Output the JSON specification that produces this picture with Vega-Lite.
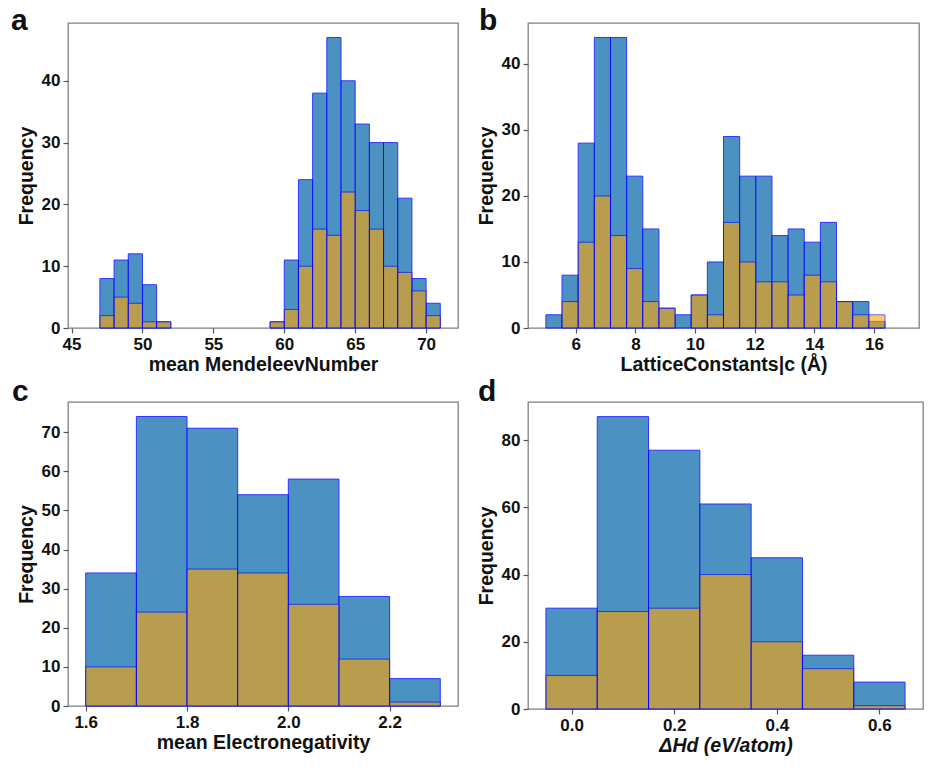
{
  "$schema": "https://vega.github.io/schema/vega-lite/v6.json",
  "padding": {"left": 10, "top": 5, "right": 5, "bottom": 5},
  "background": "white",
  "config": {
    "font": "Liberation Sans",
    "view": {"stroke": "#7f7f7f", "strokeWidth": 1.3},
    "axis": {"domain": false, "grid": false, "tickColor": "#555", "tickSize": 5, "tickWidth": 1.2, "labelFont": "Liberation Sans", "labelFontSize": 17, "labelFontWeight": "bold", "labelColor": "#111", "labelPadding": 3, "labelOverlap": false, "titleFont": "Liberation Sans", "titleFontSize": 19.5, "titleFontWeight": "bold", "titleColor": "#111"},
    "axisX": {"titlePadding": 3},
    "axisY": {"titlePadding": 5},
    "title": {"anchor": "start", "frame": "group", "fontSize": 30, "fontWeight": "bold", "baseline": "alphabetic", "offset": 0, "color": "#111", "font": "Liberation Sans"}
  },
  "datasets": {
    "a": [
      {"start": 46, "end": 47, "blue": 0, "orange": 0},
      {"start": 47, "end": 48, "blue": 8, "orange": 2},
      {"start": 48, "end": 49, "blue": 11, "orange": 5},
      {"start": 49, "end": 50, "blue": 12, "orange": 4},
      {"start": 50, "end": 51, "blue": 7, "orange": 1},
      {"start": 51, "end": 52, "blue": 1, "orange": 1},
      {"start": 52, "end": 53, "blue": 0, "orange": 0},
      {"start": 53, "end": 54, "blue": 0, "orange": 0},
      {"start": 54, "end": 55, "blue": 0, "orange": 0},
      {"start": 55, "end": 56, "blue": 0, "orange": 0},
      {"start": 56, "end": 57, "blue": 0, "orange": 0},
      {"start": 57, "end": 58, "blue": 0, "orange": 0},
      {"start": 58, "end": 59, "blue": 0, "orange": 0},
      {"start": 59, "end": 60, "blue": 1, "orange": 1},
      {"start": 60, "end": 61, "blue": 11, "orange": 3},
      {"start": 61, "end": 62, "blue": 24, "orange": 10},
      {"start": 62, "end": 63, "blue": 38, "orange": 16},
      {"start": 63, "end": 64, "blue": 47, "orange": 15},
      {"start": 64, "end": 65, "blue": 40, "orange": 22},
      {"start": 65, "end": 66, "blue": 33, "orange": 19},
      {"start": 66, "end": 67, "blue": 30, "orange": 16},
      {"start": 67, "end": 68, "blue": 30, "orange": 10},
      {"start": 68, "end": 69, "blue": 21, "orange": 9},
      {"start": 69, "end": 70, "blue": 8, "orange": 6},
      {"start": 70, "end": 71, "blue": 4, "orange": 2}
    ],
    "b": [
      {"start": 5.000, "end": 5.541, "blue": 2, "orange": 0},
      {"start": 5.541, "end": 6.083, "blue": 8, "orange": 4},
      {"start": 6.083, "end": 6.624, "blue": 28, "orange": 13},
      {"start": 6.624, "end": 7.166, "blue": 44, "orange": 20},
      {"start": 7.166, "end": 7.707, "blue": 44, "orange": 14},
      {"start": 7.707, "end": 8.248, "blue": 23, "orange": 9},
      {"start": 8.248, "end": 8.790, "blue": 15, "orange": 4},
      {"start": 8.790, "end": 9.331, "blue": 3, "orange": 3},
      {"start": 9.331, "end": 9.873, "blue": 2, "orange": 0},
      {"start": 9.873, "end": 10.414, "blue": 5, "orange": 5},
      {"start": 10.414, "end": 10.955, "blue": 10, "orange": 2},
      {"start": 10.955, "end": 11.497, "blue": 29, "orange": 16},
      {"start": 11.497, "end": 12.038, "blue": 23, "orange": 10},
      {"start": 12.038, "end": 12.580, "blue": 23, "orange": 7},
      {"start": 12.580, "end": 13.121, "blue": 14, "orange": 7},
      {"start": 13.121, "end": 13.662, "blue": 15, "orange": 5},
      {"start": 13.662, "end": 14.204, "blue": 13, "orange": 8},
      {"start": 14.204, "end": 14.745, "blue": 16, "orange": 7},
      {"start": 14.745, "end": 15.287, "blue": 4, "orange": 4},
      {"start": 15.287, "end": 15.828, "blue": 4, "orange": 2},
      {"start": 15.828, "end": 16.369, "blue": 1, "orange": 2},
      {"start": 16.369, "end": 16.911, "blue": 0, "orange": 0}
    ],
    "c": [
      {"start": 1.6, "end": 1.7, "blue": 34, "orange": 10},
      {"start": 1.7, "end": 1.8, "blue": 74, "orange": 24},
      {"start": 1.8, "end": 1.9, "blue": 71, "orange": 35},
      {"start": 1.9, "end": 2.0, "blue": 54, "orange": 34},
      {"start": 2.0, "end": 2.1, "blue": 58, "orange": 26},
      {"start": 2.1, "end": 2.2, "blue": 28, "orange": 12},
      {"start": 2.2, "end": 2.3, "blue": 7, "orange": 1}
    ],
    "d": [
      {"start": -0.05, "end": 0.05, "blue": 30, "orange": 10},
      {"start": 0.05, "end": 0.15, "blue": 87, "orange": 29},
      {"start": 0.15, "end": 0.25, "blue": 77, "orange": 30},
      {"start": 0.25, "end": 0.35, "blue": 61, "orange": 40},
      {"start": 0.35, "end": 0.45, "blue": 45, "orange": 20},
      {"start": 0.45, "end": 0.55, "blue": 16, "orange": 12},
      {"start": 0.55, "end": 0.65, "blue": 8, "orange": 1}
    ]
  },
  "columns": 2,
  "spacing": {"row": 74, "column": 70},
  "bounds": "flush",
  "concat": [
    {
      "width": 390, "height": 305,
      "title": {"text": "a", "dx": -57, "dy": 17},
      "data": {"name": "a"},
      "layer": [
        {
          "transform": [{"filter": "datum.blue > 0"}],
          "mark": {"type": "bar", "fill": "#1f77b4", "stroke": "#0000ff", "strokeWidth": 1, "opacity": 0.8},
          "encoding": {
            "x": {"field": "start", "type": "quantitative", "scale": {"domain": [44.75, 72.25], "nice": false, "zero": false}, "axis": {"values": [45, 50, 55, 60, 65, 70], "title": "mean MendeleevNumber"}},
            "x2": {"field": "end"},
            "y": {"field": "blue", "type": "quantitative", "scale": {"domain": [0, 49.35], "nice": false}, "axis": {"values": [0, 10, 20, 30, 40], "title": "Frequency"}},
            "y2": {"datum": 0}
          }
        },
        {
          "transform": [{"filter": "datum.orange > 0"}],
          "mark": {"type": "bar", "fill": "#ffa500", "stroke": "#0000ff", "strokeWidth": 1, "opacity": 0.6},
          "encoding": {
            "x": {"field": "start", "type": "quantitative", "axis": {"values": [45, 50, 55, 60, 65, 70], "title": "mean MendeleevNumber"}},
            "x2": {"field": "end"},
            "y": {"field": "orange", "type": "quantitative", "axis": {"values": [0, 10, 20, 30, 40], "title": "Frequency"}},
            "y2": {"datum": 0}
          }
        }
      ]
    },
    {
      "width": 391, "height": 305,
      "title": {"text": "b", "dx": -49, "dy": 17},
      "data": {"name": "b"},
      "layer": [
        {
          "transform": [{"filter": "datum.blue > 0"}],
          "mark": {"type": "bar", "fill": "#1f77b4", "stroke": "#0000ff", "strokeWidth": 1, "opacity": 0.8},
          "encoding": {
            "x": {"field": "start", "type": "quantitative", "scale": {"domain": [4.40, 17.51], "nice": false, "zero": false}, "axis": {"values": [6, 8, 10, 12, 14, 16], "title": "LatticeConstants|c (Å)"}},
            "x2": {"field": "end"},
            "y": {"field": "blue", "type": "quantitative", "scale": {"domain": [0, 46.2], "nice": false}, "axis": {"values": [0, 10, 20, 30, 40], "title": "Frequency"}},
            "y2": {"datum": 0}
          }
        },
        {
          "transform": [{"filter": "datum.orange > 0"}],
          "mark": {"type": "bar", "fill": "#ffa500", "stroke": "#0000ff", "strokeWidth": 1, "opacity": 0.6},
          "encoding": {
            "x": {"field": "start", "type": "quantitative", "axis": {"values": [6, 8, 10, 12, 14, 16], "title": "LatticeConstants|c (Å)"}},
            "x2": {"field": "end"},
            "y": {"field": "orange", "type": "quantitative", "axis": {"values": [0, 10, 20, 30, 40], "title": "Frequency"}},
            "y2": {"datum": 0}
          }
        }
      ]
    },
    {
      "width": 390, "height": 304,
      "title": {"text": "c", "dx": -56, "dy": 8.5},
      "data": {"name": "c"},
      "layer": [
        {
          "transform": [{"filter": "datum.blue > 0"}],
          "mark": {"type": "bar", "fill": "#1f77b4", "stroke": "#0000ff", "strokeWidth": 1, "opacity": 0.8},
          "encoding": {
            "x": {"field": "start", "type": "quantitative", "scale": {"domain": [1.565, 2.335], "nice": false, "zero": false}, "axis": {"values": [1.6, 1.8, 2.0, 2.2], "format": ".1f", "title": "mean Electronegativity"}},
            "x2": {"field": "end"},
            "y": {"field": "blue", "type": "quantitative", "scale": {"domain": [0, 77.7], "nice": false}, "axis": {"values": [0, 10, 20, 30, 40, 50, 60, 70], "title": "Frequency"}},
            "y2": {"datum": 0}
          }
        },
        {
          "transform": [{"filter": "datum.orange > 0"}],
          "mark": {"type": "bar", "fill": "#ffa500", "stroke": "#0000ff", "strokeWidth": 1, "opacity": 0.6},
          "encoding": {
            "x": {"field": "start", "type": "quantitative", "axis": {"values": [1.6, 1.8, 2.0, 2.2], "format": ".1f", "title": "mean Electronegativity"}},
            "x2": {"field": "end"},
            "y": {"field": "orange", "type": "quantitative", "axis": {"values": [0, 10, 20, 30, 40, 50, 60, 70], "title": "Frequency"}},
            "y2": {"datum": 0}
          }
        }
      ]
    },
    {
      "width": 395, "height": 307,
      "title": {"text": "d", "dx": -50, "dy": 8.5},
      "data": {"name": "d"},
      "layer": [
        {
          "transform": [{"filter": "datum.blue > 0"}],
          "mark": {"type": "bar", "fill": "#1f77b4", "stroke": "#0000ff", "strokeWidth": 1, "opacity": 0.8},
          "encoding": {
            "x": {"field": "start", "type": "quantitative", "scale": {"domain": [-0.085, 0.685], "nice": false, "zero": false}, "axis": {"values": [0, 0.2, 0.4, 0.6], "format": ".1f", "title": "ΔHd (eV/atom)", "titleFontStyle": "italic"}},
            "x2": {"field": "end"},
            "y": {"field": "blue", "type": "quantitative", "scale": {"domain": [0, 91.35], "nice": false}, "axis": {"values": [0, 20, 40, 60, 80], "title": "Frequency"}},
            "y2": {"datum": 0}
          }
        },
        {
          "transform": [{"filter": "datum.orange > 0"}],
          "mark": {"type": "bar", "fill": "#ffa500", "stroke": "#0000ff", "strokeWidth": 1, "opacity": 0.6},
          "encoding": {
            "x": {"field": "start", "type": "quantitative", "axis": {"values": [0, 0.2, 0.4, 0.6], "format": ".1f", "title": "ΔHd (eV/atom)", "titleFontStyle": "italic"}},
            "x2": {"field": "end"},
            "y": {"field": "orange", "type": "quantitative", "axis": {"values": [0, 20, 40, 60, 80], "title": "Frequency"}},
            "y2": {"datum": 0}
          }
        }
      ]
    }
  ]
}
